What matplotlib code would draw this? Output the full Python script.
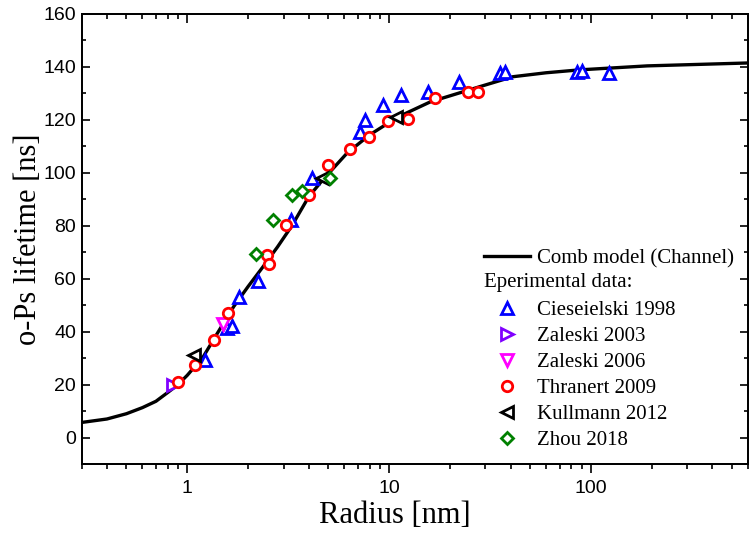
import matplotlib
matplotlib.use("Agg")
import matplotlib.pyplot as plt
from matplotlib.lines import Line2D
from matplotlib.ticker import MultipleLocator, FuncFormatter, NullFormatter, LogLocator

# ======= DATOS ======= #

# comb model (channel)
model_r = [0.3, 0.4, 0.5, 0.6, 0.7, 0.8, 0.9, 1.0, 1.2, 1.4, 1.7, 2.0, 2.4, 2.8,
           3.3, 4.0, 4.7, 6.2, 8.0, 11, 16, 28, 41, 60, 88, 190, 600]
model_tau = [5.7, 7.0, 9.0, 11.3, 13.7, 17.0, 20.0, 23.5, 30.5, 39.0, 49.5, 57.0,
             65.0, 72.0, 80.0, 91.0, 97.4, 107.5, 114.3, 121.0, 126.8, 132.5,
             136.3, 137.8, 138.9, 140.4, 141.5]

cies_r = [1.23, 1.58, 1.66, 1.81, 2.23, 3.27, 4.17, 7.2, 7.62, 9.36, 11.4, 15.5,
          22.2, 35.5, 37.6, 85, 90, 123]
cies_tau = [29.4, 41.5, 42.3, 53, 59, 82.3, 98, 115.6, 120, 125.7, 129.4, 130.7,
            134.4, 137.6, 137.9, 137.9, 138.6, 137.6]

zal03_r = [0.85]
zal03_tau = [20]

zal06_r = [1.50]
zal06_tau = [43]

thr_r = [0.905, 1.095, 1.35, 1.59, 2.48, 2.55, 3.09, 4.03, 5.0, 6.41, 7.98, 9.85,
         12.4, 16.9, 24.7, 27.7]
thr_tau = [20.9, 27.5, 37, 47, 69, 65.7, 80.4, 91.7, 103, 109, 113.5, 119.4,
           120.4, 128.2, 130.7, 130.7]

kul_r = [1.08, 4.65, 10.8]
kul_tau = [31, 98, 120.9]

zhou_r = [2.2, 2.67, 3.3, 3.7, 5.1]
zhou_tau = [69.4, 82.3, 91.7, 93, 98]

# ======= GRAFICO ======= #

plt.rcParams['font.family'] = 'Liberation Serif'

fig = plt.figure(figsize=(7.49, 5.33), dpi=100)
ax = fig.add_axes([81.7/749, 69/533, (748-81.7)/749, (464-14)/533])

ax.plot(model_r, model_tau, color='black', lw=2.4, zorder=2,
        label='Comb model (Channel)')

mk = dict(ls='none', mfc='white', mew=2.0, zorder=3)
ax.plot(cies_r, cies_tau, marker='^', ms=9, mec='#0000ff', label='Cieseielski 1998', **mk)
ax.plot(zal03_r, zal03_tau, marker='>', ms=8, mec='#8000ff', label='Zaleski 2003', **mk)
ax.plot(zal06_r, zal06_tau, marker='v', ms=8, mec='#ff00ff', label='Zaleski 2006', **mk)
ax.plot(thr_r, thr_tau, marker='o', ms=7.5, mec='#ff0000', label='Thranert 2009', **mk)
ax.plot(kul_r, kul_tau, marker='<', ms=8.5, mec='black', label='Kullmann 2012', **mk)
ax.plot(zhou_r, zhou_tau, marker='D', ms=6.3, mec='#008000', label='Zhou 2018', **mk)

ax.set_xscale('log')
ax.set_xlim(0.3, 600)
ax.set_ylim(-10, 160)

ax.yaxis.set_major_locator(MultipleLocator(20))
ax.yaxis.set_minor_locator(MultipleLocator(10))
ax.xaxis.set_major_locator(LogLocator(base=10))
ax.xaxis.set_minor_locator(LogLocator(base=10, subs=range(2, 10)))
ax.xaxis.set_major_formatter(FuncFormatter(lambda v, p: f'{v:g}'))
ax.xaxis.set_minor_formatter(NullFormatter())

ax.tick_params(axis='both', labelsize=14, labelfontfamily='Liberation Sans')
ax.tick_params(axis='y', which='both', direction='in', left=True, right=True, width=1.2, pad=4)
ax.tick_params(axis='y', which='major', length=6)
ax.tick_params(axis='y', which='minor', length=3)
ax.tick_params(axis='x', which='both', direction='out', width=1.2)
ax.tick_params(axis='x', which='major', length=6.5, pad=5)
ax.tick_params(axis='x', which='minor', length=3.5)

# ticks de arriba hacia adentro
ax2 = ax.twiny()
ax2.set_xscale('log')
ax2.set_xlim(ax.get_xlim())
ax2.xaxis.set_minor_locator(LogLocator(base=10, subs=range(2, 10)))
ax2.tick_params(axis='x', which='both', direction='in', labeltop=False, width=1.2)
ax2.tick_params(axis='x', which='major', length=6.5)
ax2.tick_params(axis='x', which='minor', length=3.5)

for a in (ax, ax2):
    for s in a.spines.values():
        s.set_linewidth(1.3)

ax.set_xlabel('Radius [nm]', fontsize=22)
ax.set_ylabel('o-Ps lifetime [ns]', fontsize=22)
ax.xaxis.set_label_coords((395-81.7)/(748-81.7), -0.082)
ax.yaxis.set_label_coords(-0.058, 0.5)

handles, labels = ax.get_legend_handles_labels()
blank = Line2D([], [], ls='none')
handles = [handles[0], blank] + handles[1:]
labels = [labels[0], ' '] + labels[1:]
leg = ax.legend(handles, labels, loc='upper left', frameon=False, fontsize=15,
                bbox_to_anchor=(484/749, (533-248.5)/533), bbox_transform=fig.transFigure,
                borderpad=0, borderaxespad=0, handlelength=2.2, handletextpad=0.35,
                labelspacing=0.31)
fig.text(484/749, (533-282)/533, 'Eperimental data:', fontsize=15, va='center', ha='left')

fig.savefig('out.png', dpi=100)
